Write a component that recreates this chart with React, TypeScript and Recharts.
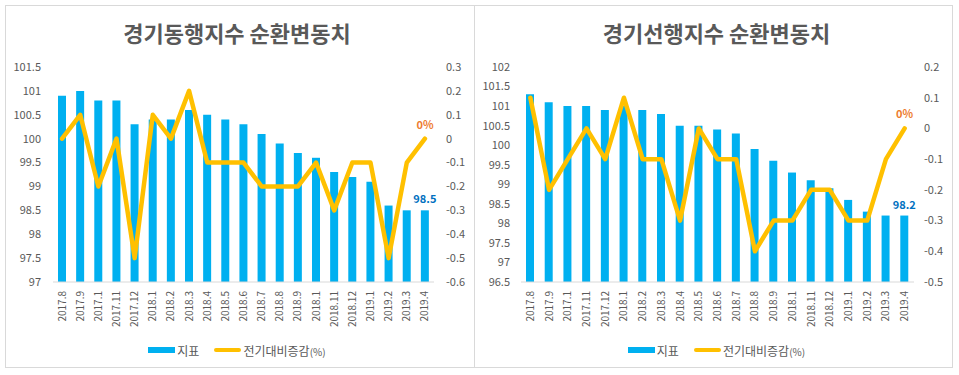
import { ComposedChart, Bar, Line, XAxis, YAxis, LabelList } from 'recharts';

const categories = [
  '2017.8', '2017.9', '2017.1', '2017.11', '2017.12', '2018.1', '2018.2', '2018.3',
  '2018.4', '2018.5', '2018.6', '2018.7', '2018.8', '2018.9', '2018.1', '2018.11',
  '2018.12', '2019.1', '2019.2', '2019.3', '2019.4',
];

// 경기동행지수 순환변동치
const coincidentIndex = [
  100.9, 101.0, 100.8, 100.8, 100.3, 100.4, 100.4, 100.6, 100.5, 100.4, 100.3,
  100.1, 99.9, 99.7, 99.6, 99.3, 99.2, 99.1, 98.6, 98.5, 98.5,
];
const coincidentChange = [
  0, 0.1, -0.2, 0, -0.5, 0.1, 0, 0.2, -0.1, -0.1, -0.1,
  -0.2, -0.2, -0.2, -0.1, -0.3, -0.1, -0.1, -0.5, -0.1, 0,
];
const coincidentLeftTicks = [97, 97.5, 98, 98.5, 99, 99.5, 100, 100.5, 101, 101.5];
const coincidentRightTicks = [-0.6, -0.5, -0.4, -0.3, -0.2, -0.1, 0, 0.1, 0.2, 0.3];

// 경기선행지수 순환변동치
const leadingIndex = [
  101.3, 101.1, 101.0, 101.0, 100.9, 101.0, 100.9, 100.8, 100.5, 100.5, 100.4,
  100.3, 99.9, 99.6, 99.3, 99.1, 98.9, 98.6, 98.3, 98.2, 98.2,
];
const leadingChange = [
  0.1, -0.2, -0.1, 0, -0.1, 0.1, -0.1, -0.1, -0.3, 0, -0.1,
  -0.1, -0.4, -0.3, -0.3, -0.2, -0.2, -0.3, -0.3, -0.1, 0,
];
const leadingLeftTicks = [96.5, 97, 97.5, 98, 98.5, 99, 99.5, 100, 100.5, 101, 101.5, 102];
const leadingRightTicks = [-0.5, -0.4, -0.3, -0.2, -0.1, 0, 0.1, 0.2];

const BAR_COLOR = '#00B0F0';
const LINE_COLOR = '#FFC000';
const TEXT_COLOR = '#595959';
const FONT = "'Noto Sans CJK KR', 'Noto Sans', sans-serif";

function buildData(index: number[], change: number[]) {
  const last = categories.length - 1;
  return categories.map((c, i) => ({
    name: c,
    index: index[i],
    change: change[i],
    indexLabel: i === last ? index[i] : null,
    changeLabel: i === last ? change[i] : null,
  }));
}

function XTick(props: any) {
  const { x, y, payload } = props;
  return (
    <text
      x={x}
      y={y}
      dy="0.35em"
      textAnchor="end"
      transform={`rotate(-90 ${x} ${y})`}
      fill={TEXT_COLOR}
      fontSize={10}
      fontFamily={FONT}
    >
      {payload.value}
    </text>
  );
}

function BarValueLabel(props: any) {
  const { x, y, width, value } = props;
  if (value == null) return null;
  return (
    <text
      x={x + width / 2}
      y={y - 12}
      textAnchor="middle"
      dominantBaseline="central"
      fill="#0070C0"
      fontSize={11}
      fontWeight={700}
      fontFamily={FONT}
    >
      {value}
    </text>
  );
}

function LineValueLabel(props: any) {
  const { x, y, value } = props;
  if (value == null) return null;
  return (
    <text
      x={x}
      y={y - 15}
      textAnchor="middle"
      dominantBaseline="central"
      fill="#ED7D31"
      fontSize={11}
      fontWeight={700}
      fontFamily={FONT}
    >
      {value}%
    </text>
  );
}

function Legend() {
  return (
    <div
      style={{
        position: 'absolute',
        left: 0,
        right: 0,
        top: 342,
        height: 16,
        display: 'flex',
        justifyContent: 'center',
        alignItems: 'center',
        color: TEXT_COLOR,
        fontSize: 12,
        fontFamily: FONT,
      }}
    >
      <span style={{ width: 27, height: 6, background: BAR_COLOR, marginRight: 2 }} />
      <span>지표</span>
      <span
        style={{ width: 27, height: 4, background: LINE_COLOR, borderRadius: 2, marginLeft: 15, marginRight: 2 }}
      />
      <span>
        전기대비증감<span style={{ fontSize: 10 }}>(%)</span>
      </span>
    </div>
  );
}

type PanelProps = {
  title: string;
  left: number;
  width: number;
  data: any[];
  leftTicks: number[];
  rightTicks: number[];
  leftAxisWidth: number;
  rightAxisWidth: number;
  leftMargin: number;
  rightMargin: number;
};

function Panel(p: PanelProps) {
  const tickStyle = { fill: TEXT_COLOR, fontSize: 11, fontFamily: FONT };
  return (
    <div style={{ position: 'absolute', left: p.left, top: 0, width: p.width, height: 375 }}>
      <div
        style={{
          position: 'absolute',
          left: 0,
          right: 0,
          top: 19,
          height: 26,
          lineHeight: '26px',
          textAlign: 'center',
          fontSize: 22,
          fontWeight: 700,
          color: TEXT_COLOR,
          fontFamily: FONT,
        }}
      >
        {p.title}
      </div>
      <ComposedChart
        width={p.width}
        height={375}
        data={p.data}
        margin={{ top: 67, right: 0, bottom: 33, left: 0 }}
      >
        <XAxis
          dataKey="name"
          interval={0}
          height={60}
          axisLine={{ stroke: '#D9D9D9' }}
          tickLine={false}
          tickSize={0}
          tickMargin={9}
          tick={<XTick />}
        />
        <YAxis
          yAxisId="left"
          domain={[p.leftTicks[0], p.leftTicks[p.leftTicks.length - 1]]}
          ticks={p.leftTicks}
          width={p.leftAxisWidth}
          axisLine={false}
          tickLine={false}
          tickSize={0}
          tickMargin={p.leftMargin}
          tick={tickStyle}
        />
        <YAxis
          yAxisId="right"
          orientation="right"
          domain={[p.rightTicks[0], p.rightTicks[p.rightTicks.length - 1]]}
          ticks={p.rightTicks}
          width={p.rightAxisWidth}
          axisLine={false}
          tickLine={false}
          tickSize={0}
          tickMargin={p.rightMargin}
          tick={tickStyle}
        />
        <Bar yAxisId="left" dataKey="index" fill={BAR_COLOR} barSize={8} isAnimationActive={false}>
          <LabelList dataKey="indexLabel" content={<BarValueLabel />} />
        </Bar>
        <Line
          yAxisId="right"
          dataKey="change"
          stroke={LINE_COLOR}
          strokeWidth={4.5}
          strokeLinejoin="round"
          strokeLinecap="round"
          dot={false}
          activeDot={false}
          isAnimationActive={false}
        >
          <LabelList dataKey="changeLabel" content={<LineValueLabel />} />
        </Line>
      </ComposedChart>
      <Legend />
    </div>
  );
}

export default function App() {
  const coincidentData = buildData(coincidentIndex, coincidentChange);
  const leadingData = buildData(leadingIndex, leadingChange);

  return (
    <div style={{ position: 'absolute', left: 0, top: 0, width: 959, height: 375, background: '#fff' }}>
      <div
        style={{
          position: 'absolute',
          left: 5,
          top: 5,
          width: 948,
          height: 363,
          border: '1px solid #D9D9D9',
          boxSizing: 'border-box',
        }}
      />
      <div style={{ position: 'absolute', left: 474, top: 5, width: 1, height: 363, background: '#D9D9D9' }} />
      <Panel
        title="경기동행지수 순환변동치"
        left={0}
        width={474}
        data={coincidentData}
        leftTicks={coincidentLeftTicks}
        rightTicks={coincidentRightTicks}
        leftAxisWidth={53}
        rightAxisWidth={40}
        leftMargin={12}
        rightMargin={12}
      />
      <Panel
        title="경기선행지수 순환변동치"
        left={474}
        width={485}
        data={leadingData}
        leftTicks={leadingLeftTicks}
        rightTicks={leadingRightTicks}
        leftAxisWidth={47}
        rightAxisWidth={45}
        leftMargin={11}
        rightMargin={10}
      />
    </div>
  );
}
